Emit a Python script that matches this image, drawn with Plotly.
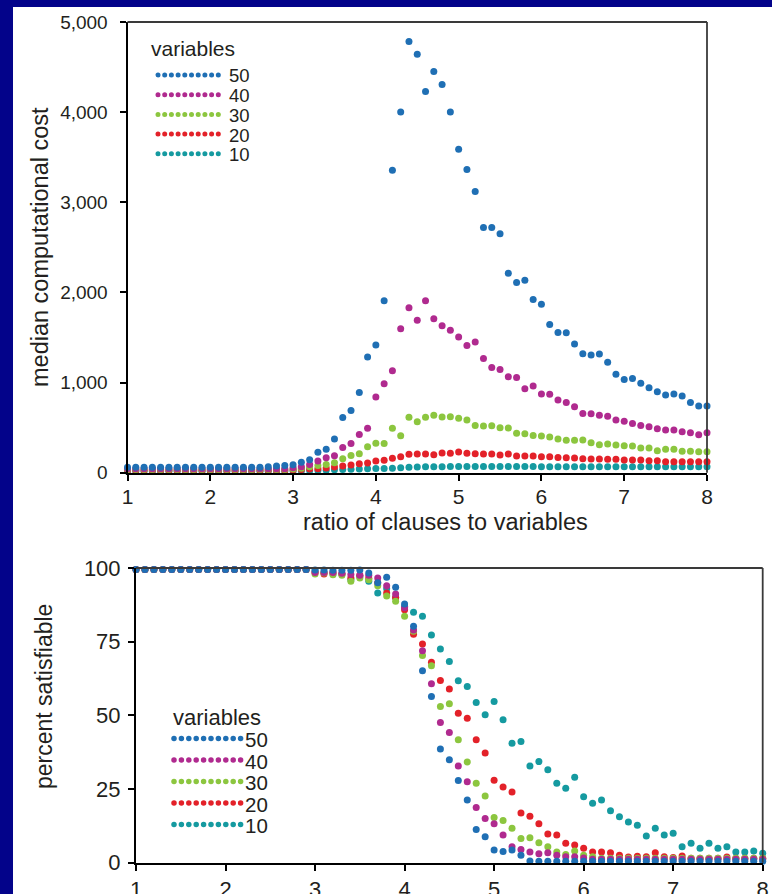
import plotly.graph_objects as go

W, H = 772, 894

# ---------------- data ----------------
ratio = [round(1 + 0.1 * i, 1) for i in range(71)]
series_names = ["50", "40", "30", "20", "10"]
colors = {"50": "#1f6fb4", "40": "#b02a8f", "30": "#8cc63f", "20": "#e32129", "10": "#159aa0"}

cost_50 = [60] * 17 + [66, 73, 80, 87, 115, 145, 226, 259, 373, 612, 690, 891, 1283,
           1416, 1907, 3356, 4002, 4783, 4642, 4228, 4450, 4306, 4002,
           3589, 3364, 3120, 2721, 2721, 2650, 2214, 2111, 2136, 1922,
           1870, 1645, 1556, 1552, 1427, 1319, 1305, 1316, 1224, 1091,
           1035, 1046, 991, 942, 898, 861, 872, 850, 780, 739, 739]
cost_40 = [45] * 20 + [55, 65, 90, 130, 166, 189, 279, 324, 423, 492,
           841, 987, 1131, 1597, 1830, 1690, 1907, 1707, 1630, 1579,
           1505, 1412, 1449, 1268, 1168, 1146, 1064, 1057, 931, 961,
           872, 869, 806, 780, 732, 658, 654, 636, 625, 584,
           570, 547, 525, 510, 488, 473, 473, 455, 444, 421, 444]
cost_30 = [35] * 20 + [42, 50, 65, 80, 92, 111, 155, 192, 210, 288,
           326, 324, 492, 410, 614, 565, 614, 636, 618, 621,
           603, 584, 525, 518, 521, 499, 495, 437, 433, 414,
           407, 396, 373, 359, 359, 362, 333, 311, 318, 307,
           300, 296, 274, 274, 244, 259, 259, 237, 237, 233, 233]
cost_20 = [25] * 20 + [30, 35, 40, 45, 52, 62, 74, 85, 100, 107,
           130, 137, 160, 178, 204, 208, 208, 200, 218, 215,
           230, 215, 211, 208, 208, 196, 208, 185, 185, 185,
           178, 178, 170, 167, 163, 156, 152, 152, 148, 148,
           141, 141, 141, 133, 133, 122, 122, 122, 122, 122, 122]
cost_10 = [15] * 20 + [18, 20, 22, 25, 28, 32, 35, 38, 42, 44,
           46, 47, 50, 55, 60, 62, 66, 67, 67, 68,
           68, 68, 68, 68, 68, 68, 68, 68, 68, 68,
           67, 67, 67, 67, 67, 67, 67, 67, 67, 67,
           66, 66, 66, 66, 66, 66, 66, 66, 66, 66, 66]

sat_50 = [99.5] * 20 + [99.3, 99.3, 99.2, 99.2, 99.2, 99.3, 98.3, 95.0, 96.9, 93.5,
          87.8, 80.2, 65.1, 56.4, 38.6, 34.9, 27.9, 21.3, 11.3, 8.8,
          4.3, 3.8, 4.3, 2.5, 0.6] + [0.5] * 26
sat_40 = [99.5] * 20 + [98.5, 98.5, 98.5, 98.2, 97.8, 97.5, 97.5, 96.6, 94.0, 91.2,
          86.5, 79.0, 71.9, 60.7, 47.6, 44.2, 32.8, 27.5, 18.7, 15.0,
          13.2, 9.4, 5.4, 4.5, 3.6, 3.0, 3.4, 2.5, 2.0, 2.0,
          1.6] + [1.2] * 20
sat_30 = [99.5] * 20 + [98.0, 98.3, 97.7, 97.5, 95.5, 96.6, 96.0, 94.0, 90.5, 88.7,
          83.6, 78.5, 70.3, 66.8, 53.0, 53.9, 41.7, 34.2, 27.0, 22.6,
          15.3, 14.3, 11.7, 8.2, 8.5, 6.8, 5.4, 3.6, 2.8, 4.0,
          2.5, 2.0] + [1.5] * 19
sat_20 = [99.5] * 20 + [98.5, 98.0, 98.5, 98.0, 96.6, 97.5, 96.5, 95.0, 91.5, 90.0,
          85.8, 77.5, 74.2, 68.0, 61.8, 58.9, 50.7, 49.0, 41.7, 37.2,
          28.0, 25.7, 24.0, 16.9, 15.8, 13.2, 9.7, 9.4, 6.6, 6.0,
          4.9, 3.6, 3.6, 3.4, 2.5, 1.9, 2.2, 2.0, 3.4, 2.0,
          1.8, 2.3, 1.5, 1.5, 1.5, 1.5, 1.9, 1.5, 1.5, 1.5, 1.5]
sat_10 = [99.5] * 20 + [99.0, 98.5, 98.0, 98.0, 96.0, 97.0, 95.5, 91.5, 93.0, 90.0,
          87.0, 85.0, 83.6, 77.3, 72.5, 68.3, 61.7, 59.8, 54.4, 50.2,
          54.7, 48.5, 40.5, 41.1, 32.8, 34.3, 31.5, 27.0, 25.3, 29.0,
          22.4, 20.2, 21.3, 17.6, 15.6, 13.8, 12.7, 9.1, 11.7, 9.4,
          10.0, 5.4, 6.6, 4.9, 6.6, 4.9, 5.4, 3.6, 3.6, 4.0, 3.2]

cost = {"50": cost_50, "40": cost_40, "30": cost_30, "20": cost_20, "10": cost_10}
sat = {"50": sat_50, "40": sat_40, "30": sat_30, "20": sat_20, "10": sat_10}

x_ticks = [1, 2, 3, 4, 5, 6, 7, 8]
cost_ticks = [0, 1000, 2000, 3000, 4000, 5000]
sat_ticks = [0, 25, 50, 75, 100]

# ---------------- layout helpers ----------------
def fx(p):
    return p / W

def fy(p):
    return 1 - p / H

FONT = "Liberation Sans, Arial, Helvetica, sans-serif"
TXT = "#231f20"
FRAME = "#03038a"

fig = go.Figure()

# draw 10 first, 50 last (on top)
for name in reversed(series_names):
    fig.add_trace(go.Scatter(x=ratio, y=cost[name], mode="markers", xaxis="x", yaxis="y",
                             marker=dict(size=7, color=colors[name]), cliponaxis=False,
                             showlegend=False, hoverinfo="skip"))
    fig.add_trace(go.Scatter(x=ratio, y=sat[name], mode="markers", xaxis="x2", yaxis="y2",
                             marker=dict(size=7, color=colors[name]), cliponaxis=False,
                             showlegend=False, hoverinfo="skip"))

axis_common = dict(showline=True, linecolor="black", linewidth=2, ticks="outside",
                   ticklen=6, tickwidth=1.5, tickcolor="black", showgrid=False,
                   zeroline=False, fixedrange=True, automargin=False)

fig.update_layout(
    width=W, height=H,
    autosize=False,
    margin=dict(l=0, r=0, t=0, b=0, pad=0),
    paper_bgcolor=FRAME,
    plot_bgcolor="#e6e6e6",
    showlegend=False,
    font=dict(family=FONT, color=TXT),
    xaxis=dict(domain=[fx(127.5), fx(707)], range=[1, 8], tickvals=x_ticks,
               tickfont=dict(size=21, family=FONT, color=TXT), ticklabelstandoff=-2,
               anchor="y", **axis_common),
    yaxis=dict(domain=[fy(472.7), fy(22)], range=[0, 5000], tickvals=cost_ticks,
               tickformat=",", tickfont=dict(size=19, family=FONT, color=TXT),
               ticklabelstandoff=8, anchor="x", **axis_common),
    xaxis2=dict(domain=[fx(136), fx(762.7)], range=[1, 8], tickvals=x_ticks,
                tickfont=dict(size=22, family=FONT, color=TXT), ticklabelstandoff=0,
                anchor="y2", **axis_common),
    yaxis2=dict(domain=[fy(862.7), fy(568)], range=[0, 100], tickvals=sat_ticks,
                tickfont=dict(size=22, family=FONT, color=TXT), ticklabelstandoff=3,
                anchor="x2", **axis_common),
)

shapes = []
# white page area inside the blue frame
shapes.append(dict(type="rect", xref="paper", yref="paper", x0=fx(13), x1=1.0,
                   y0=0, y1=fy(7), fillcolor="white", line=dict(width=0), layer="below"))
# top / right frame lines of both panels
for xr, yr in (("x", "y"), ("x2", "y2")):
    shapes.append(dict(type="line", xref=f"{xr} domain", yref=f"{yr} domain",
                       x0=0, x1=1, y0=1, y1=1, line=dict(color="#3a3a3a", width=1.8)))
    shapes.append(dict(type="line", xref=f"{xr} domain", yref=f"{yr} domain",
                       x0=1, x1=1, y0=0, y1=1, line=dict(color="#3a3a3a", width=1.8)))

annotations = []

# custom legends: row of dots + label
def add_legend(title_x, title_y, row_y0, row_dy, dot_x0, dot_dx, dot_d, label_x,
               title_size, num_size):
    annotations.append(dict(text="variables", x=fx(title_x), y=fy(title_y), xref="paper",
                            yref="paper", xanchor="left", yanchor="middle", showarrow=False,
                            font=dict(size=title_size, family=FONT, color=TXT)))
    for i, name in enumerate(series_names):
        cy = row_y0 + i * row_dy
        for k in range(10):
            cx = dot_x0 + k * dot_dx
            shapes.append(dict(type="circle", xref="paper", yref="paper",
                               x0=fx(cx - dot_d / 2), x1=fx(cx + dot_d / 2),
                               y0=fy(cy + dot_d / 2), y1=fy(cy - dot_d / 2),
                               fillcolor=colors[name], line=dict(width=0), layer="above"))
        annotations.append(dict(text=name, x=fx(label_x), y=fy(cy + 1), xref="paper",
                                yref="paper", xanchor="left", yanchor="middle",
                                showarrow=False,
                                font=dict(size=num_size, family=FONT, color=TXT)))

add_legend(149, 48, 75, 19.7, 158, 6.7, 5, 227, 21, 18.5)
add_legend(171, 717, 738.5, 21.5, 174, 7.4, 5.5, 243, 22, 20.5)

# axis titles
annotations.append(dict(text="ratio of clauses to variables", x=fx(445), y=fy(522),
                        xref="paper", yref="paper", xanchor="center", yanchor="middle",
                        showarrow=False, font=dict(size=23.5, family=FONT, color=TXT)))
annotations.append(dict(text="median computational cost", x=fx(40), y=fy(247),
                        xref="paper", yref="paper", xanchor="center", yanchor="middle",
                        textangle=-90, showarrow=False,
                        font=dict(size=23.5, family=FONT, color=TXT)))
annotations.append(dict(text="percent satisfiable", x=fx(44), y=fy(697),
                        xref="paper", yref="paper", xanchor="center", yanchor="middle",
                        textangle=-90, showarrow=False,
                        font=dict(size=23, family=FONT, color=TXT)))

fig.update_layout(shapes=shapes, annotations=annotations)

# remove the browser's default body margin so the figure sits at the page origin
fig.write_html(
    "out.html",
    config={"displayModeBar": False},
    post_script=("document.body.style.margin='0px';"
                 "document.body.style.background='" + FRAME + "';"
                 "document.body.style.overflow='hidden';"),
)
